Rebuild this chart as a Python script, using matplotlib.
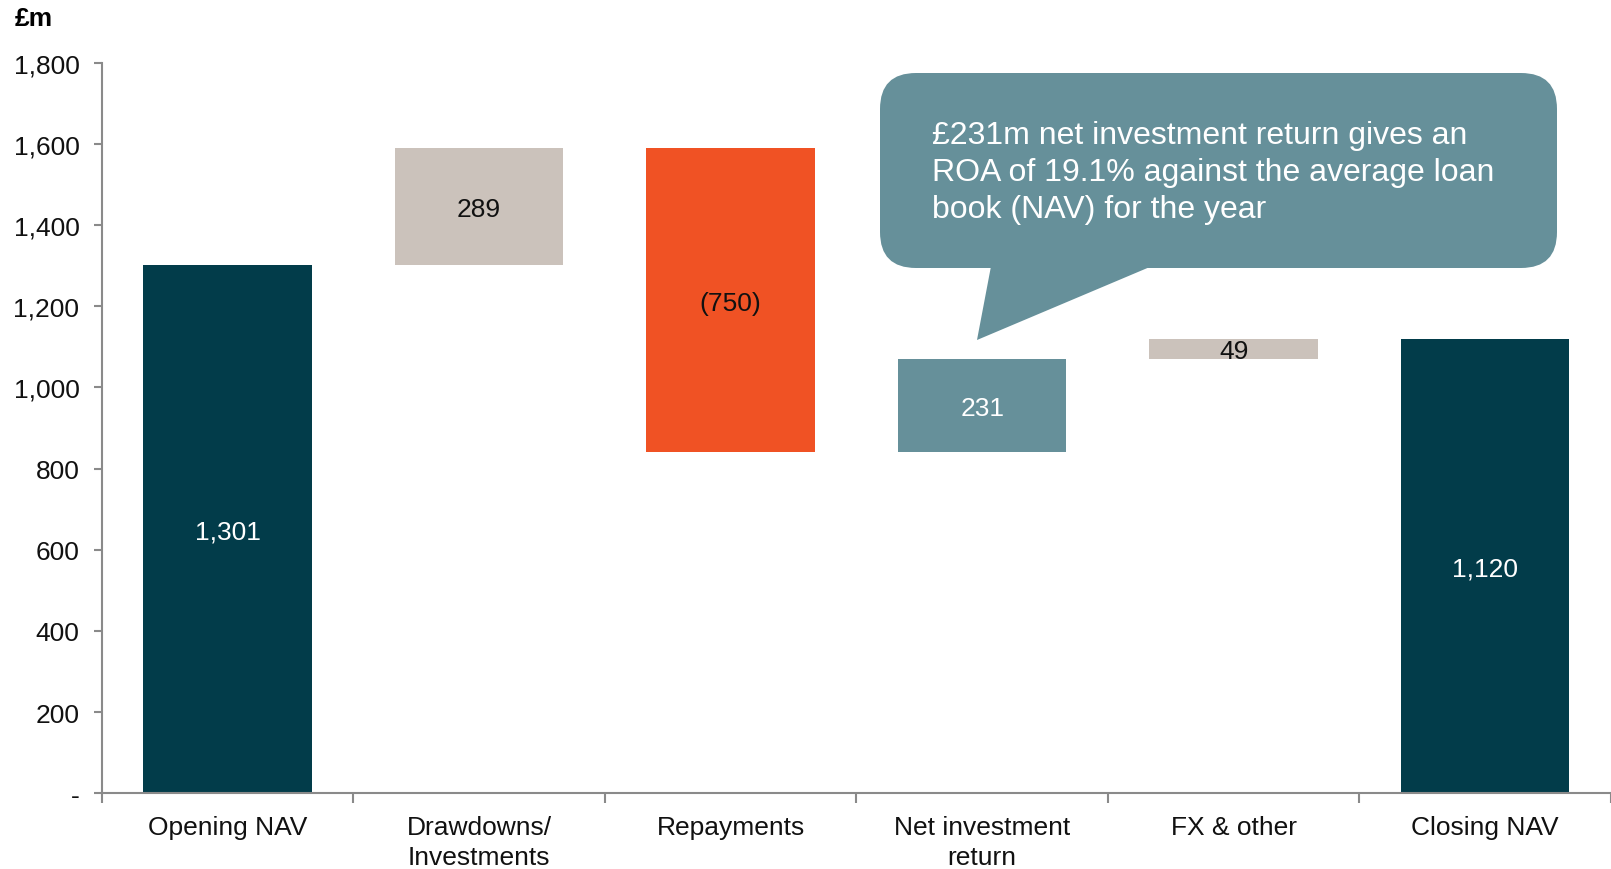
import matplotlib
matplotlib.use("Agg")
import matplotlib.pyplot as plt
from matplotlib.patches import FancyBboxPatch, Polygon
from matplotlib.transforms import Affine2D

plt.rcParams['font.family'] = ['Liberation Sans', 'DejaVu Sans']

# NAV bridge, £m
categories = ["Opening NAV", "Drawdowns/\nInvestments", "Repayments",
              "Net investment\nreturn", "FX & other", "Closing NAV"]
values = [1301, 289, -750, 231, 49, 1120]
is_total = [True, False, False, False, False, True]
value_labels = ["1,301", "289", "(750)", "231", "49", "1,120"]
bar_colors = ["#023C4A", "#CBC2BB", "#F05224", "#66909A", "#CBC2BB", "#023C4A"]
label_colors = ["white", "#111111", "#111111", "white", "#111111", "white"]

y_ticks = [0, 200, 400, 600, 800, 1000, 1200, 1400, 1600, 1800]
y_ticklabels = ["-", "200", "400", "600", "800", "1,000", "1,200", "1,400", "1,600", "1,800"]

callout = "£231m net investment return gives an\nROA of 19.1% against the average loan\nbook (NAV) for the year"

W, H = 1611, 870
fig = plt.figure(figsize=(W / 100, H / 100), dpi=100)
ax = fig.add_axes([101.7 / W, 1 - 794.2 / H, 1 - 101.7 / W, (794.2 - 63.7) / H])

# running total gives the floating bar bottoms
bottoms = []
running = 0
for v, tot in zip(values, is_total):
    if tot:
        bottoms.append(0)
        running = v
    else:
        bottoms.append(running if v >= 0 else running + v)
        running += v
heights = [abs(v) for v in values]

xs = [i + 0.5 for i in range(len(categories))]
ax.bar(xs, heights, bottom=bottoms, width=0.67, color=bar_colors, zorder=2)

for x, b, h, txt, c in zip(xs, bottoms, heights, value_labels, label_colors):
    ax.text(x, b + h / 2, txt, ha="center", va="center_baseline", fontsize=19, color=c, zorder=3)

ax.set_xlim(0, len(categories))
ax.set_ylim(0, 1800)
ax.set_yticks(y_ticks)
ax.set_yticklabels(y_ticklabels)
ax.set_xticks(range(len(categories) + 1))
ax.set_xticklabels([])
ax.set_xticks(xs, minor=True)
ax.set_xticklabels(categories, minor=True, linespacing=1.3)

grey = "#8A8A8A"
for s in ["top", "right"]:
    ax.spines[s].set_visible(False)
for s in ["left", "bottom"]:
    ax.spines[s].set_color(grey)
    ax.spines[s].set_linewidth(1.5)
ax.tick_params(axis="y", length=6, width=1.5, color=grey, labelsize=19, pad=10, labelcolor="#111111")
ax.tick_params(axis="x", which="major", length=7, width=1.5, color=grey)
ax.tick_params(axis="x", which="minor", length=0, labelsize=19, pad=16, labelcolor="#111111")

fig.text(15 / W, 1 - 19 / H, "£m", fontsize=19, fontweight="bold", va="center", ha="left")

# speech bubble, drawn in pixel coordinates measured from the top-left
px = Affine2D().scale(1, -1).translate(0, H)
bubble_color = "#66909A"
box = FancyBboxPatch((880, 74), 1557 - 880, 269 - 74,
                     boxstyle="round,pad=0,rounding_size=36",
                     transform=px, facecolor=bubble_color, edgecolor="none", zorder=5)
fig.add_artist(box)
tail = Polygon([(992, 262), (1164, 262), (977, 341)], closed=True,
               transform=px, facecolor=bubble_color, edgecolor="none", zorder=5)
fig.add_artist(tail)
fig.text(932 / W, 1 - 173 / H, callout, fontsize=23, color="white",
         ha="left", va="center", linespacing=1.32, zorder=6)

fig.savefig("out.png", dpi=100)
